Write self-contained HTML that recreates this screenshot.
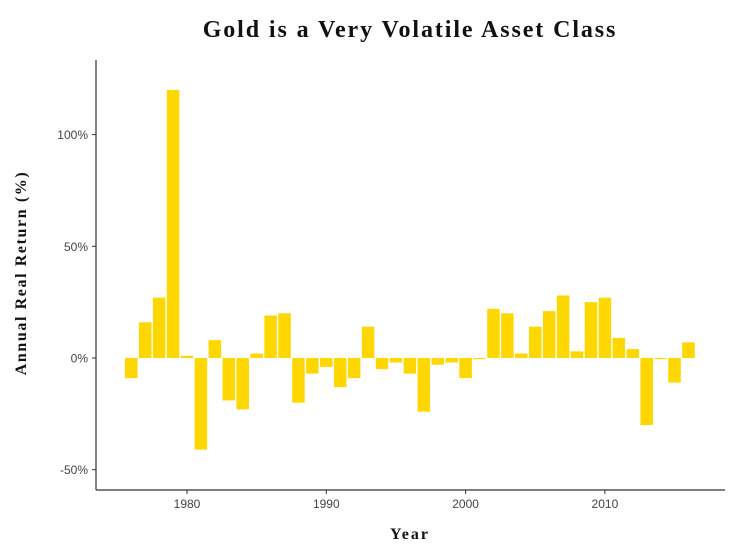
<!DOCTYPE html>
<html><head><meta charset="utf-8"><style>
body{margin:0;background:#fff;width:746px;height:550px;overflow:hidden}
svg{display:block}
</style></head><body>
<svg id="chart" width="746" height="550">
<text x="410" y="37" text-anchor="middle" font-family="Liberation Serif, serif" font-weight="bold" font-size="24" letter-spacing="1.9" fill="#111">Gold is a Very Volatile Asset Class</text>
<g id="bars"></g>
<line x1="96" y1="60" x2="96" y2="490" stroke="#333" stroke-width="1.2"/>
<line x1="96" y1="490" x2="725" y2="490" stroke="#333" stroke-width="1.2"/>
<g id="yticks"></g>
<g id="xticks"></g>
<text x="410" y="539" text-anchor="middle" font-family="Liberation Serif, serif" font-weight="bold" font-size="16" letter-spacing="2" fill="#111">Year</text>
<text transform="translate(26,273) rotate(-90)" text-anchor="middle" font-family="Liberation Serif, serif" font-weight="bold" font-size="16" letter-spacing="1.6" fill="#111">Annual Real Return (%)</text>
</svg>
<script>
const years=[1976,1977,1978,1979,1980,1981,1982,1983,1984,1985,1986,1987,1988,1989,1990,1991,1992,1993,1994,1995,1996,1997,1998,1999,2000,2001,2002,2003,2004,2005,2006,2007,2008,2009,2010,2011,2012,2013,2014,2015,2016];
const returns=[-9,16,27,120,1,-41,8,-19,-23,2,19,20,-20,-7,-4,-13,-9,14,-5,-2,-7,-24,-3,-2,-9,-0.5,22,20,2,14,21,28,3,25,27,9,4,-30,-0.5,-11,7];
const yTickVals=[-50,0,50,100];
const yTickLabels=["-50%","0%","50%","100%"];
const xTickVals=[1980,1990,2000,2010];
const xTickLabels=["1980","1990","2000","2010"];
const NS="http://www.w3.org/2000/svg";
const xs=y=>187+(y-1980)*13.93;
const ys=v=>358-v*2.234;
const bw=12.5;
const bars=document.getElementById('bars');
years.forEach((yr,i)=>{
 const v=returns[i];
 const r=document.createElementNS(NS,'rect');
 
 
 const y0=ys(0),y1=ys(v);
 r.setAttribute('x',xs(yr)-bw/2);
 r.setAttribute('y',Math.min(y0,y1));
 r.setAttribute('width',bw);
 r.setAttribute('height',Math.max(Math.abs(y1-y0),1));
 r.setAttribute('fill','#FFD700');
 bars.appendChild(r);
});
const yt=document.getElementById('yticks');
yTickVals.forEach((v,i)=>{
 const l=document.createElementNS(NS,'line');
 
 
 l.setAttribute('x1',92);l.setAttribute('x2',96);l.setAttribute('y1',ys(v));l.setAttribute('y2',ys(v));l.setAttribute('stroke','#333');
 yt.appendChild(l);
 const t=document.createElementNS(NS,'text');
 
 
 t.setAttribute('x',88);t.setAttribute('y',ys(v)+4.5);t.setAttribute('text-anchor','end');
 t.setAttribute('font-family','Liberation Sans, sans-serif');t.setAttribute('font-size','12');t.setAttribute('fill','#444');
 t.textContent=yTickLabels[i];yt.appendChild(t);
});
const xt=document.getElementById('xticks');
xTickVals.forEach((v,i)=>{
 const l=document.createElementNS(NS,'line');
 
 
 l.setAttribute('x1',xs(v));l.setAttribute('x2',xs(v));l.setAttribute('y1',490);l.setAttribute('y2',494);l.setAttribute('stroke','#333');
 xt.appendChild(l);
 const t=document.createElementNS(NS,'text');
 
 
 t.setAttribute('x',xs(v));t.setAttribute('y',508);t.setAttribute('text-anchor','middle');
 t.setAttribute('font-family','Liberation Sans, sans-serif');t.setAttribute('font-size','12');t.setAttribute('fill','#444');
 t.textContent=xTickLabels[i];xt.appendChild(t);
});
</script>
</body></html>
